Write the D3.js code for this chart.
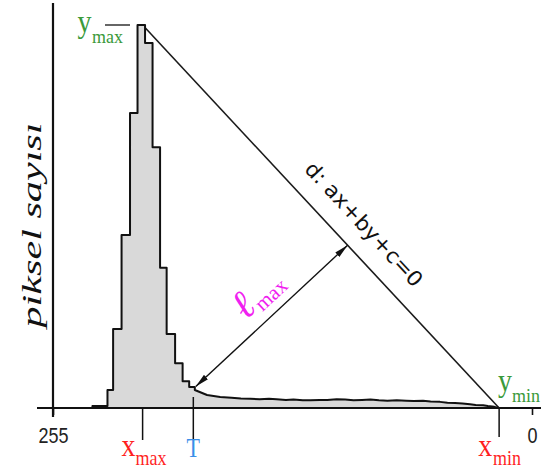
<!DOCTYPE html>
<html><head><meta charset="utf-8">
<script src="https://cdn.jsdelivr.net/npm/d3@7"></script>
<style>body{margin:0;background:#fff}</style>
</head><body>
<script>
// ---- data ----
const binEdges = [234, 226, 223, 218.5, 214, 210, 206, 202, 198, 194.5, 190, 186, 182.5, 179.5];
const binCounts = [0.5, 4.7, 20.6, 45.2, 77, 100, 95.3, 68.1, 36.6, 19.3, 11.7, 7.0, 5.5];
const tailGray  = [179.5, 173, 166, 160, 155, 150, 145, 140, 136, 131, 127, 122, 118, 113, 109, 104, 99.5, 95, 90.5, 86, 81.5, 77, 72, 67, 63, 58, 54, 49, 45, 41, 37, 33, 30, 26, 23.5, 20, 17.5];
const tailCount = [4.7, 3.4, 2.9, 2.7, 2.5, 2.4, 2.3, 2.4, 2.3, 2.1, 2.2, 2.0, 2.0, 2.1, 2.1, 2.3, 2.2, 2.0, 2.1, 2.2, 2.0, 1.9, 2.0, 1.9, 1.8, 1.9, 1.7, 1.6, 1.4, 1.3, 1.2, 1.0, 0.8, 0.7, 0.5, 0.3, 0];
const tickValues = [255, 0];
const tickLabels = ["255", "0"];
const xMaxGray = 207.3, xMinGray = 17.5, tGray = 180.3;
const yMaxCount = 100, yMinCount = 0;
const footGray = 179, footCount = 5.6;
const yAxisTitle = "piksel sayısı";
const lineLabel = "d: ax+by+c=0";

// ---- setup ----
const W = 541, H = 470;
const svg = d3.select("body").append("svg").attr("width", W).attr("height", H).style("display", "block");
const x = d3.scaleLinear().domain([255, 0]).range([53, 532]);
const y = d3.scaleLinear().domain([0, 100]).range([408, 25]);
const serif = "'Liberation Serif','Times New Roman',serif";
const sans = "'Liberation Sans',Arial,sans-serif";

// line d
const P1 = [x(xMaxGray), y(yMaxCount)], P2 = [x(xMinGray), y(yMinCount)];
svg.append("line").attr("x1", P1[0]).attr("y1", P1[1]).attr("x2", P2[0]).attr("y2", P2[1])
  .attr("stroke", "#1a1a1a").attr("stroke-width", 1.6);

// histogram
const pts = [[x(binEdges[0]), y(0)]];
binCounts.forEach((c, i) => { pts.push([x(binEdges[i]), y(c)]); pts.push([x(binEdges[i + 1]), y(c)]); });
tailGray.forEach((g, i) => pts.push([x(g), y(tailCount[i])]));
pts.push([x(tailGray[tailGray.length - 1]), y(0)]);
svg.append("path").attr("d", d3.line()(pts) + "Z")
  .attr("fill", "#d9d9d9").attr("stroke", "#111").attr("stroke-width", 2).attr("stroke-linejoin", "round");

// axes lines
svg.append("line").attr("x1", 37).attr("x2", W).attr("y1", y(0)).attr("y2", y(0))
  .attr("stroke", "#111").attr("stroke-width", 2);
svg.append("line").attr("x1", x(255)).attr("x2", x(255)).attr("y1", 3).attr("y2", 417)
  .attr("stroke", "#111").attr("stroke-width", 2.2);

// bottom ticks 255 / 0
const ax = svg.append("g").attr("transform", `translate(0,${y(0)})`)
  .call(d3.axisBottom(x).tickValues(tickValues).tickSize(7).tickFormat((d, i) => tickLabels[i]));
ax.select(".domain").remove();
ax.selectAll(".tick line").attr("stroke", "#111").attr("stroke-width", 1.6);
ax.selectAll(".tick text").attr("y", 0).attr("dy", 0)
  .attr("transform", "translate(0,35) scale(1,1.2)")
  .style("font-family", sans).style("font-size", "18px").attr("fill", "#222");

// marker ticks
[[xMaxGray, 408, 440], [tGray, 397, 440], [xMinGray, 408, 437]].forEach(([g, a, b]) => {
  svg.append("line").attr("x1", x(g)).attr("x2", x(g)).attr("y1", a).attr("y2", b)
    .attr("stroke", "#111").attr("stroke-width", 1.5);
});
// y_max dash
svg.append("line").attr("x1", 105).attr("x2", 130).attr("y1", y(yMaxCount)).attr("y2", y(yMaxCount))
  .attr("stroke", "#333").attr("stroke-width", 1.5);

// labels with subscripts
function label(xp, yp, main, sub, color, mainSize, subSize, subDx, subDy, sy) {
  const g = svg.append("g").attr("transform", `translate(${xp},${yp}) scale(1,${sy})`)
    .attr("fill", color).style("font-family", serif);
  g.append("text").attr("text-anchor", "middle").style("font-size", mainSize + "px").text(main);
  if (sub) g.append("text").attr("x", subDx).attr("y", subDy).style("font-size", subSize + "px").text(sub);
}
const red = "#ff1f1f", green = "#3a9a3a", blue = "#3a8ee8", magenta = "#f020f0";
label(x(xMaxGray) - 14, 456, "x", "max", red, 28, 18, 7, 7.5, 1.15);
label(x(tGray), 457, "T", null, blue, 22, 0, 0, 0, 1.2);
label(x(xMinGray) - 14, 456, "x", "min", red, 28, 18, 8, 7.5, 1.15);
label(84.5, 32, "y", "max", green, 28, 18, 7.5, 10, 1.1);
label(505, 391, "y", "min", green, 28, 18, 7, 10, 1.1);

// y-axis title
svg.append("text").attr("transform", "translate(41,225) rotate(-90)")
  .attr("text-anchor", "middle").style("font-family", serif).style("font-style", "italic")
  .style("font-weight", "400")
  .style("font-size", "27px").attr("textLength", 205).attr("lengthAdjust", "spacingAndGlyphs")
  .attr("fill", "#111").text(yAxisTitle);

// line label
{
  const dx = P2[0] - P1[0], dy = P2[1] - P1[1];
  const ang = Math.atan2(dy, dx) * 180 / Math.PI;
  const t = 0.567;
  const cx = P1[0] + dx * t, cy = P1[1] + dy * t;
  svg.append("text").attr("transform", `translate(${cx},${cy}) rotate(${ang})`)
    .attr("y", -19).attr("text-anchor", "middle")
    .style("font-family", "'DejaVu Sans',sans-serif").style("font-size", "21px").attr("fill", "#111")
    .attr("textLength", 162).attr("lengthAdjust", "spacingAndGlyphs")
    .text(lineLabel);
}

// l_max arrow
{
  const F = [x(footGray), y(footCount)];
  const dx = P2[0] - P1[0], dy = P2[1] - P1[1], L = Math.hypot(dx, dy);
  const ux = dx / L, uy = dy / L;
  const s = (F[0] - P1[0]) * ux + (F[1] - P1[1]) * uy;
  const E = [P1[0] + ux * s, P1[1] + uy * s];
  const defs = svg.append("defs");
  defs.append("marker").attr("id", "ah").attr("viewBox", "0 0 14 6").attr("refX", 14).attr("refY", 3)
    .attr("markerWidth", 14).attr("markerHeight", 6).attr("markerUnits", "userSpaceOnUse")
    .attr("orient", "auto-start-reverse")
    .append("path").attr("d", "M0,0 L14,3 L0,6 Z").attr("fill", "#111");
  svg.append("line").attr("x1", F[0]).attr("y1", F[1]).attr("x2", E[0]).attr("y2", E[1])
    .attr("stroke", "#111").attr("stroke-width", 1.4)
    .attr("marker-start", "url(#ah)").attr("marker-end", "url(#ah)");
  const ang = Math.atan2(E[1] - F[1], E[0] - F[0]) * 180 / Math.PI;
  const mx = F[0] + (E[0] - F[0]) * 0.5, my = F[1] + (E[1] - F[1]) * 0.5;
  const g = svg.append("g").attr("transform", `translate(${mx},${my}) rotate(${ang})`)
    .attr("fill", magenta).style("font-family", serif);
  g.append("text").attr("x", -14).attr("y", -14).attr("text-anchor", "middle")
    .style("font-style", "italic").style("font-size", "40px").text("ℓ");
  g.append("text").attr("x", -4).attr("y", -9).style("font-size", "21px").text("max");
}
</script>
</body></html>
